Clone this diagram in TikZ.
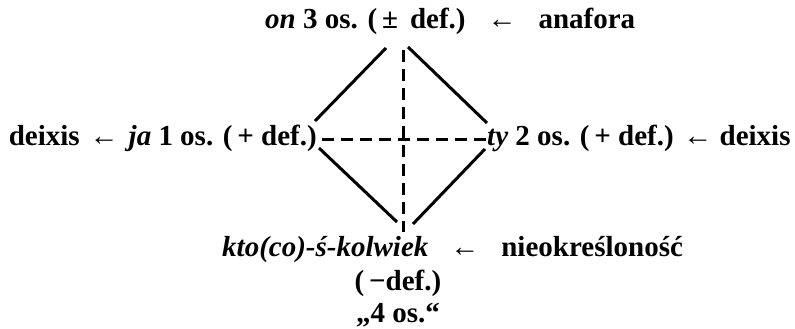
\documentclass[tikz,border=0pt]{standalone}
\usepackage{fontspec}
\setmainfont{Liberation Serif}
\begin{document}
\begin{tikzpicture}[x=1pt,y=-1pt,
  lbl/.style={inner sep=0pt,font=\fontsize{29}{32}\selectfont\bfseries},
  solidline/.style={line width=3pt},
  dashline/.style={line width=3pt,dash pattern=on 12pt off 7pt}]
\useasboundingbox (0,0) rectangle (795,329);
% texts
\node[lbl,anchor=base west] (top) at (265,29) {\textit{on} 3 os. (\,±\, def.)\hspace{22pt}←\hspace{22pt}anafora};
\node[lbl,anchor=base east] (left) at (317,145) {deixis\hspace{10pt}←\hspace{10pt}\textit{ja} 1 os. (\,+ def.)};
\node[lbl,anchor=base west] (right) at (487,145) {\textit{ty} 2 os. (\,+ def.) ← deixis};
\node[lbl,anchor=base west] (bottom) at (222,256) {\textit{kto(co)-ś-kolwiek}\hspace{22pt}←\hspace{22pt}nieokreśloność};
\node[lbl,anchor=base] (def) at (398,290) {(\,−def.)};
\node[lbl,anchor=base] (four) at (398,322) {„4 os.“};
% diamond end points
\coordinate (ula) at (386,48);  \coordinate (ulb) at (315,121);
\coordinate (ura) at (408,47);  \coordinate (urb) at (487,123);
\coordinate (lla) at (319,148); \coordinate (llb) at (397,222);
\coordinate (lra) at (485,149); \coordinate (lrb) at (413,224);
\coordinate (va) at (403,50);   \coordinate (vb) at (403,232);
\coordinate (ha) at (322,139);  \coordinate (hb) at (486,139);
\draw[solidline] (ula) -- (ulb);
\draw[solidline] (ura) -- (urb);
\draw[solidline] (lla) -- (llb);
\draw[solidline] (lra) -- (lrb);
\draw[dashline] (va) -- (vb);
\draw[dashline] (ha) -- (hb);
\end{tikzpicture}
\end{document}
